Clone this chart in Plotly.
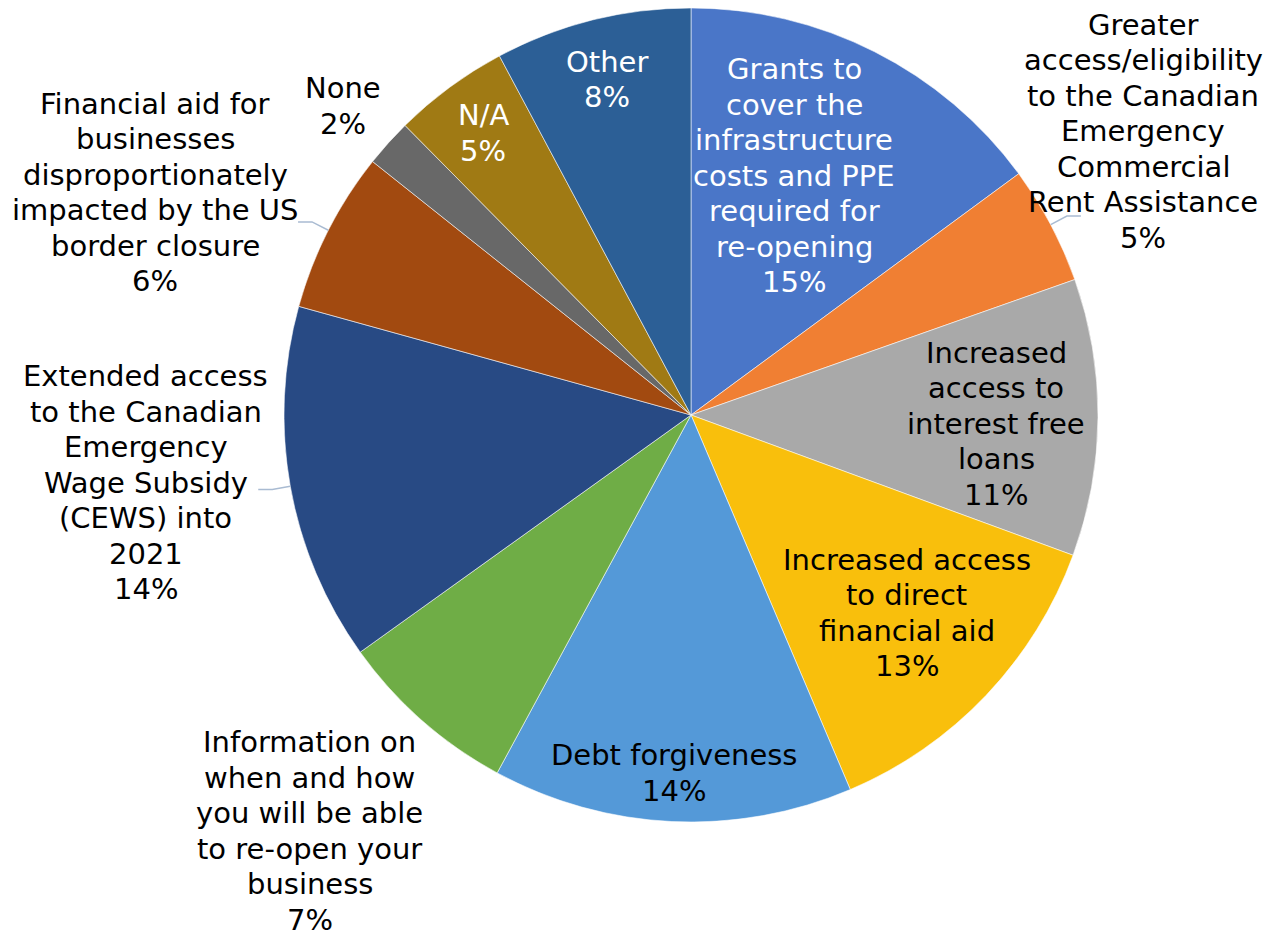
import math
import plotly.graph_objects as go

labels = [
    "Grants to<br>cover the<br>infrastructure<br>costs and PPE<br>required for<br>re-opening",
    "Greater<br>access/eligibility<br>to the Canadian<br>Emergency<br>Commercial<br>Rent Assistance",
    "Increased<br>access to<br>interest free<br>loans",
    "Increased access<br>to direct<br>financial aid",
    "Debt forgiveness",
    "Information on<br>when and how<br>you will be able<br>to re-open your<br>business",
    "Extended access<br>to the Canadian<br>Emergency<br>Wage Subsidy<br>(CEWS) into<br>2021",
    "Financial aid for<br>businesses<br>disproportionately<br>impacted by the US<br>border closure",
    "None",
    "N/A",
    "Other",
]
values = [14.9, 4.7, 11.0, 13.0, 14.3, 7.2, 14.2, 6.4, 1.9, 4.6, 7.8]
pct_text = ["15%", "5%", "11%", "13%", "14%", "7%", "14%", "6%", "2%", "5%", "8%"]

colors = ["#4a76c8", "#f07f33", "#a9a9a9", "#f9bf0c", "#5499d8", "#6fad46",
          "#284a84", "#a24a10", "#686868", "#a07a14", "#2c5f96"]
text_colors = ["white", "black", "black", "black", "black", "black",
               "black", "black", "black", "white", "white"]
# label placement style: radius factor, angle offset (deg), pixel shifts
label_r = [0.64, 1.32, 0.75, 0.72, 0.88, 1.39, 1.35, 1.43, 1.15, 0.86, 0.85]
label_dang = [-3.5, -4, 0, -1, 0, 1, 3, -4, 0, 0, 0]
label_dx = [0, -4, 0, 0, 0, 0, 0, 0, 0, 0, 0]
label_dy = [0, 0, -7, 0, 0, 2, 0, -5, -4, 0, 0]
leaders = [1, 7, 6]  # slices with leader lines

W, H = 1271, 935
# page body has an 8px margin, so pie centre in figure px is offset
CX, CY, R = 683, 407, 407
LINE_H = 35.5
FONT = "DejaVu Sans, Verdana, sans-serif"
FSIZE = 29

fig = go.Figure(go.Pie(
    labels=[l.replace("<br>", " ") for l in labels],
    values=values,
    sort=False,
    direction="clockwise",
    rotation=0,
    textinfo="none",
    textposition="none",
    hoverinfo="label+percent",
    marker=dict(colors=colors, line=dict(color="rgba(255,255,255,0.55)", width=1)),
    domain=dict(x=[(CX - R) / W, (CX + R) / W], y=[1 - (CY + R) / H, 1 - (CY - R) / H]),
    showlegend=False,
))

def to_paper(ang_deg, r_px):
    a = math.radians(ang_deg)
    px = CX + r_px * math.sin(a)
    py = CY - r_px * math.cos(a)
    return px / W, 1 - py / H

total = sum(values)
cum = 0.0
annotations = []
shapes = []
for i, v in enumerate(values):
    mid = (cum + v / 2) / total * 360
    cum += v
    x, y = to_paper(mid + label_dang[i], R * label_r[i])
    lines = labels[i].split("<br>") + [pct_text[i]]
    n = len(lines)
    for k, line in enumerate(lines):
        annotations.append(dict(
            x=x, y=y, xref="paper", yref="paper", showarrow=False,
            text=line, align="center",
            xanchor="center", yanchor="middle",
            xshift=label_dx[i],
            yshift=-(k - (n - 1) / 2) * LINE_H + label_dy[i],
            font=dict(family=FONT, size=FSIZE, color=text_colors[i]),
        ))
    if i in leaders:
        x0, y0 = to_paper(mid, R)
        x1, y1 = to_paper(mid, R * 1.045)
        side = 1 if math.sin(math.radians(mid)) > 0 else -1
        x2 = x1 + side * 14 / W
        shapes.append(dict(type="path", xref="paper", yref="paper",
                           path=f"M {x0} {y0} L {x1} {y1} L {x2} {y1}",
                           line=dict(color="#a9bbd2", width=1.5)))

fig.update_layout(
    width=W, height=H,
    margin=dict(l=0, r=0, t=0, b=0),
    paper_bgcolor="white",
    plot_bgcolor="white",
    annotations=annotations,
    shapes=shapes,
)
fig.write_html("out.html")
